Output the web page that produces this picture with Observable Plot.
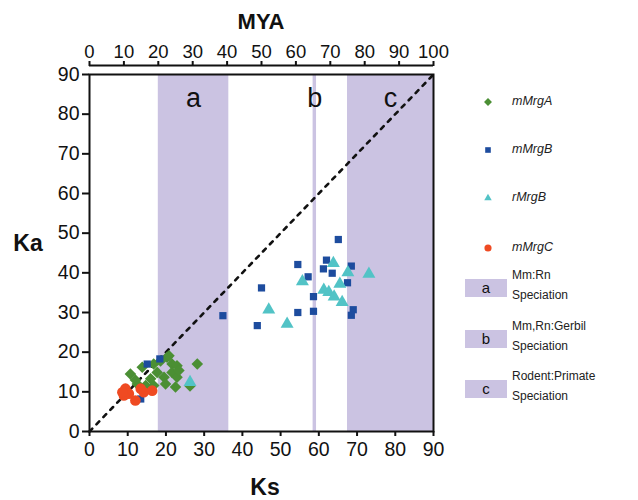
<!DOCTYPE html>
<html><head><meta charset="utf-8">
<script src="https://cdn.jsdelivr.net/npm/d3@7"></script>
<script src="https://cdn.jsdelivr.net/npm/@observablehq/plot@0.6"></script>
<style>
body{margin:0;background:#fff;font-family:"Liberation Sans",Arial,sans-serif;}
#wrap{position:relative;width:638px;height:500px;}
#legend{position:absolute;left:0;top:0;width:638px;height:500px;pointer-events:none;}
.li{position:absolute;font-size:12.5px;font-style:italic;color:#222;}
.sw{position:absolute;width:42px;height:18px;background:#cbc3e2;text-align:center;font-size:15px;line-height:18px;color:#111;}
.st{position:absolute;font-size:12px;line-height:20px;color:#222;}
</style></head><body><div id="wrap"></div>
<script>
// Ks (x) and Ka (y) values per gene series
const mMrgA_ks = [10.7, 13.8, 16.8, 20.3, 21.6, 17.7, 19.5, 21.6, 22.9, 16.0, 16.8, 14.7, 12.5, 19.9, 22.5, 22.9, 12.0, 28.2, 20.8, 26.3, 23.4, 18.6];
const mMrgA_ka = [14.5, 16.2, 17.0, 18.7, 17.0, 14.9, 13.7, 14.9, 13.7, 13.3, 11.6, 11.6, 12.0, 12.0, 11.2, 16.6, 13.0, 17.0, 19.1, 11.5, 15.4, 17.8];
const mMrgB_ks = [15.1, 18.4, 13.4, 34.9, 45.0, 43.9, 54.5, 57.2, 54.5, 58.6, 58.6, 65.1, 62.0, 61.2, 63.5, 68.5, 67.5, 69.0, 68.5];
const mMrgB_ka = [17.0, 18.3, 8.2, 29.2, 36.2, 26.7, 42.1, 39.0, 30.0, 34.0, 30.3, 48.4, 43.2, 41.0, 39.9, 41.7, 37.5, 30.7, 29.3];
const rMrgB_ks = [26.3, 46.9, 51.7, 55.7, 63.8, 67.6, 73.1, 61.3, 62.6, 64.0, 65.5, 66.1];
const rMrgB_ka = [12.4, 30.7, 27.1, 37.8, 42.4, 40.1, 39.7, 35.7, 35.1, 34.0, 37.2, 32.6];
const mMrgC_ks = [9.4, 10.3, 9.0, 12.0, 14.2, 16.4, 13.4, 8.6];
const mMrgC_ka = [10.8, 9.5, 9.1, 7.8, 9.9, 10.3, 10.8, 9.9];

// speciation bands in MYA
const bandNames = ["a", "b", "c"];
const bandStart = [20, 65, 75];
const bandEnd = [40.5, 66, 100];
const bandTitles = [["Mm:Rn", "Speciation"], ["Mm,Rn:Gerbil", "Speciation"], ["Rodent:Primate", "Speciation"]];

const ksTicks = [0, 10, 20, 30, 40, 50, 60, 70, 80, 90];
const kaTicks = [0, 10, 20, 30, 40, 50, 60, 70, 80, 90];
const myaTicks = [0, 10, 20, 30, 40, 50, 60, 70, 80, 90, 100];
const myaToKs = 0.9;
const diagonal = [0, 90];

const seriesNames = ["mMrgA", "mMrgB", "rMrgB", "mMrgC"];
const seriesColors = ["#4b8f34", "#1d4c9e", "#52c3c6", "#ef4a22"];
const seriesSymbols = ["diamond2", "square2", "triangle2", "circle"];
const seriesR = [5.2, 4.6, 6.2, 5.3];

const seriesData = [
  [mMrgA_ks, mMrgA_ka], [mMrgB_ks, mMrgB_ka], [rMrgB_ks, rMrgB_ka], [mMrgC_ks, mMrgC_ka]
].map(([ks, ka], s) => ks.map((k, i) => ({ks: k, ka: ka[i], s})));

const bands = bandNames.map((n, i) => ({name: n, x1: bandStart[i] * myaToKs, x2: bandEnd[i] * myaToKs}));

const fontFam = '"Liberation Sans", Arial, sans-serif';

const plot = Plot.plot({
  width: 638, height: 500,
  marginLeft: 89, marginRight: 205, marginTop: 74, marginBottom: 69,
  style: {fontFamily: fontFam, background: "#fff", color: "#111"},
  x: {domain: [0, 90]},
  y: {domain: [0, 90]},
  marks: [
    Plot.rectX(bands, {x1: "x1", x2: "x2", y1: 0, y2: 90, fill: "#cbc3e2"}),
    Plot.text(bands, {x: d => (d.x1 + d.x2) / 2, y: 90, text: "name", dy: 24, fontSize: 27, fill: "#111"}),
    Plot.line(diagonal, {x: d => d, y: d => d, stroke: "#111", strokeWidth: 2.6, strokeDasharray: "4,6"}),
    ...seriesData.map((data, s) => Plot.dot(data, {
      x: "ks", y: "ka", symbol: () => seriesSymbols[s], r: seriesR[s], fill: seriesColors[s], stroke: "none"
    })),
    Plot.frame({stroke: "#111", strokeWidth: 2}),
    Plot.axisX({ticks: ksTicks, anchor: "bottom", tickSize: 5, tickPadding: 6, fontSize: 19.5, label: null, strokeWidth: 2}),
    Plot.axisY({ticks: kaTicks, anchor: "left", tickSize: 7, tickPadding: 3, fontSize: 19.5, label: null, strokeWidth: 2}),
    Plot.axisX({ticks: myaTicks.map(m => m * myaToKs), tickFormat: d => Math.round(d / myaToKs), anchor: "top", tickSize: 5, tickPadding: 3, fontSize: 18.5, label: null, strokeWidth: 2, dy: -9}),
    Plot.ruleY([90], {x1: 0, x2: 90, dy: -9, stroke: "#111", strokeWidth: 2})
  ]
});
plot.setAttribute("font-family", fontFam);
document.getElementById("wrap").appendChild(plot);

// axis titles
const svg = d3.select(plot);
svg.append("text").attr("x", 261).attr("y", 21).attr("dy", "0.35em").attr("text-anchor", "middle")
  .attr("font-size", 22).attr("font-weight", "bold").attr("fill", "#111").text("MYA");
svg.append("text").attr("x", 265).attr("y", 487).attr("dy", "0.35em").attr("text-anchor", "middle")
  .attr("font-size", 23).attr("font-weight", "bold").attr("fill", "#111").text("Ks");
svg.append("text").attr("x", 28).attr("y", 243).attr("dy", "0.35em").attr("text-anchor", "middle")
  .attr("font-size", 23).attr("font-weight", "bold").attr("fill", "#111").text("Ka");

// legend
const lg = document.createElement("div");
lg.id = "legend";
document.getElementById("wrap").appendChild(lg);
const legTops = [102, 150, 198, 248];
const d3sym = {diamond2: d3.symbolDiamond2, square2: d3.symbolSquare2, triangle2: d3.symbolTriangle2, circle: d3.symbolCircle};
seriesNames.forEach((name, s) => {
  const sym = d3.create("svg").attr("width", 14).attr("height", 14)
    .style("position", "absolute").style("left", "481px").style("top", (legTops[s] - 7) + "px");
  sym.append("path").attr("transform", "translate(7,7)")
    .attr("d", d3.symbol(d3sym[seriesSymbols[s]], 40)())
    .attr("fill", seriesColors[s]);
  lg.appendChild(sym.node());
  const t = document.createElement("div");
  t.className = "li"; t.textContent = name;
  t.style.left = "512px"; t.style.top = (legTops[s] - 8) + "px";
  lg.appendChild(t);
});
const swTops = [279, 330, 380];
bandNames.forEach((n, i) => {
  const sw = document.createElement("div");
  sw.className = "sw"; sw.textContent = n;
  sw.style.left = "465px"; sw.style.top = swTops[i] + "px";
  lg.appendChild(sw);
  bandTitles[i].forEach((line, j) => {
    const t = document.createElement("div");
    t.className = "st"; t.textContent = line;
    t.style.left = "512px"; t.style.top = (swTops[i] - 14 + j * 20) + "px";
    lg.appendChild(t);
  });
});
</script></body></html>
